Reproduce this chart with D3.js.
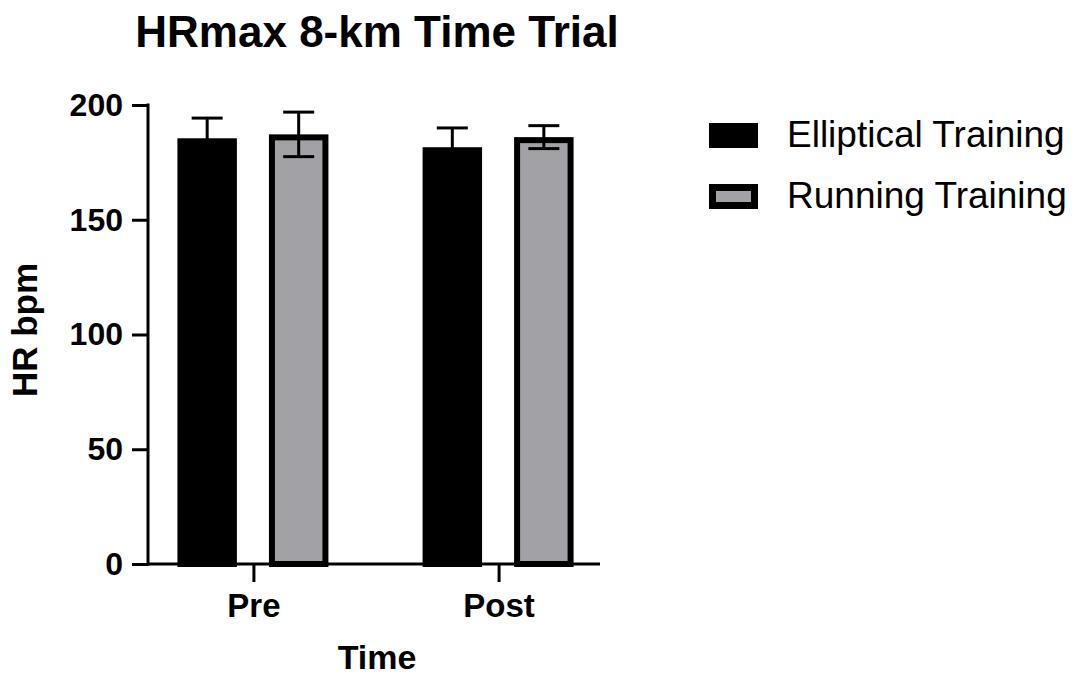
<!DOCTYPE html>
<html><head><meta charset="utf-8">
<script src="https://cdn.jsdelivr.net/npm/d3@7"></script>
<style>body{margin:0;background:#fff}svg{display:block}text{font-family:"Liberation Sans",Arial,sans-serif}</style>
</head><body>
<svg id="c" width="1077" height="677"></svg>
<script>
const categories = ["Pre", "Post"];
const seriesNames = ["Elliptical Training", "Running Training"];
const ellipticalMean = [185.5, 181.6];
const ellipticalSD = [8.8, 8.4];
const runningMean = [187.2, 186.0];
const runningSD = [9.7, 5.0];
const yTicks = [0, 50, 100, 150, 200];
const colors = ["#000000", "#a2a1a5"];

const means = [ellipticalMean, runningMean];
const sds = [ellipticalSD, runningSD];

const svg = d3.select("#c");
const x0 = 148, x1 = 600, yBot = 564, yTop = 105;

const y = d3.scaleLinear().domain([0, 200]).range([yBot, yTop]);
const xg = d3.scalePoint().domain(categories).range([x0, x1 + 4]).padding(0.43);
const xs = d3.scaleBand().domain(seriesNames).range([-76, 75]).paddingInner(0.35);

// bars
const bw = 6;
categories.forEach((c, i) => {
  seriesNames.forEach((s, j) => {
    const left = xg(c) + xs(s);
    const top = y(means[j][i]);
    svg.append("rect")
      .attr("x", left + bw/2).attr("y", top + bw/2)
      .attr("width", xs.bandwidth() - bw).attr("height", yBot - top - bw/2)
      .attr("fill", colors[j]).attr("stroke", "#000").attr("stroke-width", bw);
  });
});
// error bars
categories.forEach((c, i) => {
  seriesNames.forEach((s, j) => {
    const cx = xg(c) + xs(s) + xs.bandwidth()/2;
    const hi = y(means[j][i] + sds[j][i]), lo = y(means[j][i] - sds[j][i]);
    const g = svg.append("g").attr("stroke", "#000").attr("stroke-width", 3);
    g.append("line").attr("x1", cx).attr("x2", cx).attr("y1", hi).attr("y2", lo);
    g.append("line").attr("x1", cx - 15.5).attr("x2", cx + 15.5).attr("y1", hi).attr("y2", hi);
    g.append("line").attr("x1", cx - 15.5).attr("x2", cx + 15.5).attr("y1", lo).attr("y2", lo);
  });
});

// axes
const yAxis = d3.axisLeft(y).tickValues(yTicks).tickSize(16).tickPadding(9).tickSizeOuter(0);
const gy = svg.append("g").attr("transform", `translate(${x0},0)`).call(yAxis);
gy.select(".domain").remove();
gy.append("line").attr("x1", 0).attr("x2", 0).attr("y1", yTop - 1.5).attr("y2", yBot + 1.5).attr("stroke", "#000").attr("stroke-width", 3);
gy.selectAll(".tick line").attr("stroke", "#000").attr("stroke-width", 3);
gy.selectAll(".tick text").attr("font-size", 32).attr("font-weight", "bold").attr("fill", "#000")
  .attr("font-family", "Liberation Sans, Arial, sans-serif");

const xAxis = d3.axisBottom(xg).tickSize(18).tickPadding(12).tickSizeOuter(0);
const gx = svg.append("g").attr("transform", `translate(0,${yBot})`).call(xAxis);
gx.select(".domain").remove();
gx.append("line").attr("x1", x0).attr("x2", x1).attr("y1", 0).attr("y2", 0).attr("stroke", "#000").attr("stroke-width", 3);
gx.selectAll(".tick line").attr("stroke", "#000").attr("stroke-width", 3);
gx.selectAll(".tick text").attr("font-size", 33).attr("font-weight", "bold").attr("fill", "#000")
  .attr("font-family", "Liberation Sans, Arial, sans-serif");

// titles
svg.append("text").attr("x", 377).attr("y", 47).attr("text-anchor", "middle")
  .attr("font-size", 44).attr("font-weight", "bold").text("HRmax 8-km Time Trial");
svg.append("text").attr("transform", "translate(37,330) rotate(-90)").attr("text-anchor", "middle")
  .attr("font-size", 35).attr("font-weight", "bold").text("HR bpm");
svg.append("text").attr("x", 377).attr("y", 669).attr("text-anchor", "middle")
  .attr("font-size", 34).attr("font-weight", "bold").text("Time");

// legend
const lb = 7;
seriesNames.forEach((s, j) => {
  const ly = 123 + j * 61;
  svg.append("rect").attr("x", 709 + lb/2).attr("y", ly + lb/2).attr("width", 49 - lb).attr("height", 25 - lb)
    .attr("fill", colors[j]).attr("stroke", "#000").attr("stroke-width", lb);
  svg.append("text").attr("x", 787).attr("y", ly + 24).attr("font-size", 37).attr("fill", "#000").text(s);
});
</script>
</body></html>
